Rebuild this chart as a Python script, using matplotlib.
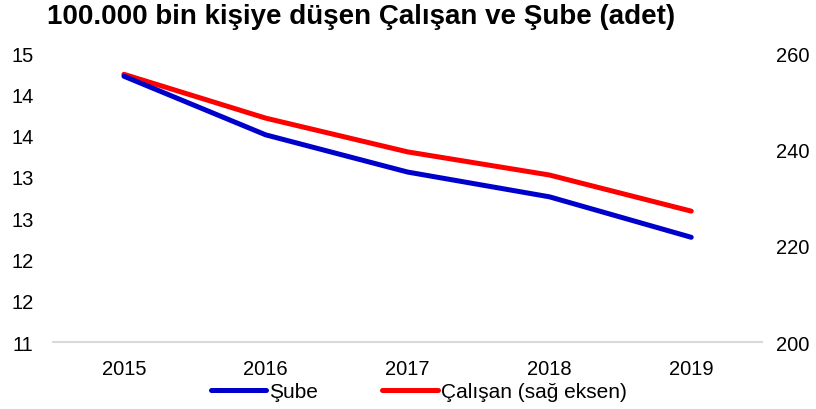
import matplotlib.pyplot as plt
from matplotlib.ticker import FuncFormatter

plt.rcParams['font.family'] = ['Liberation Sans', 'DejaVu Sans']

years = ["2015", "2016", "2017", "2018", "2019"]
sube = [14.22, 13.51, 13.06, 12.76, 12.27]
calisan = [255.6, 246.5, 239.5, 234.7, 227.2]

fig = plt.figure(figsize=(8.16, 4.10), dpi=100)
ax = fig.add_axes([0.065, 0.163, 0.869, 0.705])
ax2 = ax.twinx()

x = range(len(years))
ax.plot(x, sube, color="#0000cc", lw=3.6, solid_capstyle="round", label="Şube", zorder=3)
ax2.plot(x, calisan, color="#ff0000", lw=3.6, solid_capstyle="round", label="Çalışan (sağ eksen)")

ax.set_xlim(-0.5, 4.5)
ax.set_ylim(11, 14.5)
ax.set_yticks([11, 11.5, 12, 12.5, 13, 13.5, 14, 14.5])
# labels are rounded half up like the original
ax.yaxis.set_major_formatter(FuncFormatter(lambda v, p: str(int(v + 0.5))))
ax2.set_ylim(200, 260)
ax2.set_yticks([200, 220, 240, 260])

ax.set_xticks(list(x))
ax.set_xticklabels(years)

for a in (ax, ax2):
    for s in ("top", "left", "right", "bottom"):
        a.spines[s].set_visible(False)
    a.tick_params(length=0, labelsize=14.5, colors="black")
ax.spines["bottom"].set_visible(True)
ax.spines["bottom"].set_color("#d9d9d9")
ax.spines["bottom"].set_linewidth(1.5)
ax.tick_params(axis="x", pad=12)
ax.tick_params(axis="y", pad=14)
ax2.tick_params(axis="y", pad=10)

ax2.set_zorder(ax.get_zorder() - 1)
ax.patch.set_visible(False)

fig.text(0.058, 0.958, "100.000 bin kişiye düşen Çalışan ve Şube (adet)",
         fontsize=20, fontweight="bold", va="center", ha="left")

h1, l1 = ax.get_legend_handles_labels()
h2, l2 = ax2.get_legend_handles_labels()
fig.legend(h1 + h2, l1 + l2, loc="center", bbox_to_anchor=(0.513, 0.043), ncol=2,
           frameon=False, fontsize=15, handlelength=2.65, handletextpad=0.15,
           columnspacing=3.1)

fig.savefig("out.png", dpi=100)
